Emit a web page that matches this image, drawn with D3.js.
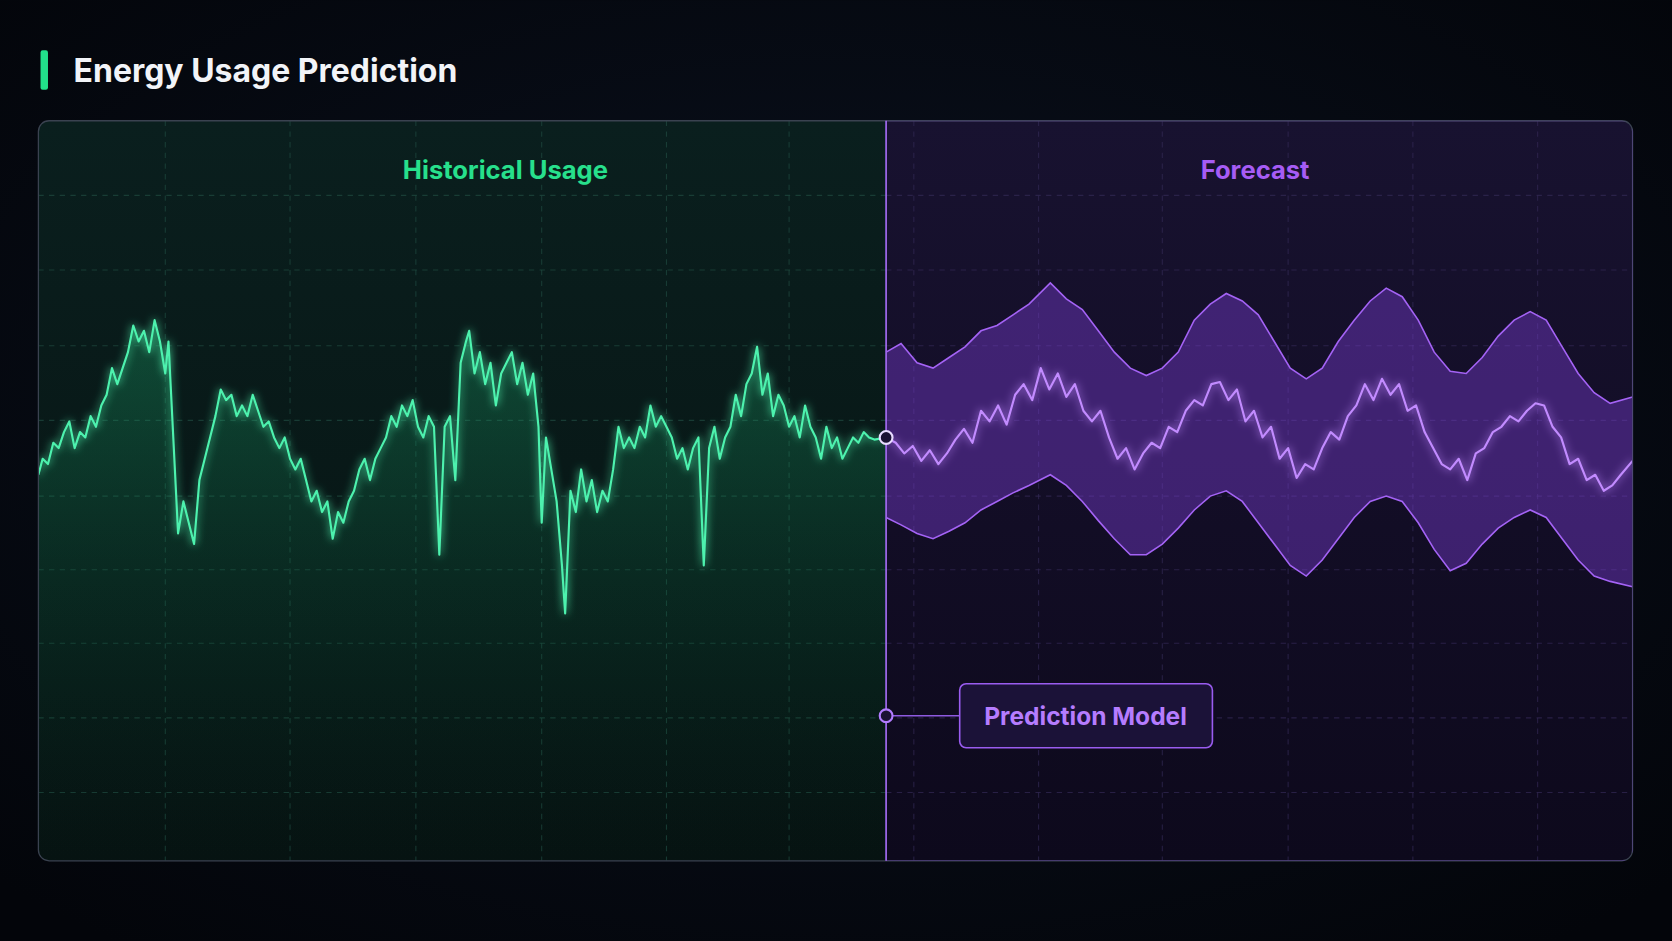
<!DOCTYPE html>
<html><head><meta charset="utf-8">
<script src="https://cdn.jsdelivr.net/npm/d3@7"></script>
<style>
html,body{margin:0;padding:0;background:#04070d;overflow:hidden}
svg{display:block}
</style></head>
<body>
<svg id="chart"></svg>
<script>
// hours since start, usage (kW)
const histT = [0,4,9,14,19,24,29,34,39,44,49,54,59,64,69,74,79,84,89,94,99,104,109,114,119,122,126,131,136,141,146,151,156,161,166,171,176,181,186,191,196,201,206,211,216,221,226,231,236,241,246,251,256,261,266,271,276,281,286,291,296,301,306,311,316,321,326,331,336,341,346,351,356,361,366,371,376,381,386,391,396,401,404,409,414,419,424,429,434,439,444,449,454,459,464,469,472,476,481,486,491,494,499,504,509,514,519,524,529,534,539,544,549,554,559,564,569,574,579,584,589,594,599,604,609,614,619,624,629,634,639,644,649,654,659,664,669,674,679,684,689,694,699,704,709,714,719,724,729,734,739,744,749,754,759,764,769,774,779,784,795];
const histV = [455,470,465,485,480,495,505,480,495,490,510,500,520,530,555,540,555,570,595,580,590,570,600,580,550,580,500,400,430,410,390,450,470,490,510,535,525,530,510,520,510,530,515,500,505,490,480,490,470,460,470,450,430,440,420,430,395,420,410,430,440,460,470,450,470,480,490,510,500,520,510,525,500,490,510,500,380,500,510,450,560,580,590,550,570,540,560,520,550,560,570,540,560,530,550,500,410,490,460,430,370,325,440,420,460,430,450,420,440,430,460,500,480,490,480,500,490,520,500,510,500,490,470,480,460,480,490,370,480,500,470,490,500,530,510,540,550,575,530,550,510,530,520,500,510,490,520,500,490,470,500,480,490,470,480,490,485,495,490,488,490];

const foreT = [795,804,812,820,828,836,844,852,860,868,876,884,892,900,908,916,924,932,940,948,956,964,972,980,988,996,1004,1012,1020,1028,1036,1044,1052,1060,1068,1076,1084,1092,1100,1108,1116,1124,1132,1140,1148,1156,1164,1172,1180,1188,1196,1204,1212,1220,1228,1236,1244,1252,1260,1268,1276,1284,1292,1300,1308,1316,1324,1332,1340,1348,1356,1364,1372,1380,1388,1396,1404,1412,1420,1428,1436,1444,1452,1460,1468,1476,1484,1495];
const foreV = [490,485,475,482,468,478,465,475,488,498,485,515,505,520,502,530,540,525,555,535,550,528,540,515,505,515,490,470,480,460,475,485,480,500,495,515,525,520,540,542,525,535,505,515,490,500,470,480,452,465,460,480,495,488,510,520,540,525,545,530,540,515,520,495,480,465,460,470,450,475,480,495,500,510,505,515,522,520,500,490,465,470,450,455,440,445,455,468];

const bandT = [795,809,824,839,854,869,884,899,914,929,949,964,979,994,1009,1024,1039,1054,1069,1084,1099,1114,1129,1144,1159,1174,1189,1204,1219,1234,1249,1264,1279,1294,1309,1324,1339,1354,1369,1384,1399,1414,1429,1444,1459,1474,1495];
const bandHi = [570,578,560,555,565,575,590,595,605,615,635,620,610,590,570,555,548,555,570,600,615,625,618,605,580,555,545,555,580,600,618,630,622,600,570,552,550,565,585,600,608,600,575,550,532,522,528];
const bandLo = [415,408,400,395,402,410,422,430,438,445,455,445,430,412,395,380,380,390,405,422,435,440,430,410,390,370,360,375,395,415,430,435,430,410,385,365,372,390,405,415,422,415,395,375,360,355,350];

const gridT = [119,236,354,472,589,704,821,938,1054,1172,1289,1406];
const gridV = [157,227,297,366,435,506,576,647,717];

const W = 1568, H = 882;
const P = {x0:36, x1:1531, y0:113, y1:807};
const svg = d3.select("#chart").attr("width",1672).attr("height",941).attr("viewBox",`0 0 ${W} ${H}`);
const x = d3.scaleLinear().domain([0,1495]).range([P.x0,P.x1]);
const y = d3.scaleLinear().domain([93,787]).range([P.y1,P.y0]);
const splitX = x(795);

const defs = svg.append("defs");
const bg = defs.append("radialGradient").attr("id","bg").attr("cx","50%").attr("cy","45%").attr("r","70%");
bg.append("stop").attr("offset","0%").attr("stop-color","#0b1220");
bg.append("stop").attr("offset","100%").attr("stop-color","#03050a");
const lg = defs.append("linearGradient").attr("id","leftBg").attr("x1",0).attr("y1",0).attr("x2",0).attr("y2",1);
lg.append("stop").attr("offset","0%").attr("stop-color","#0a1f1e");
lg.append("stop").attr("offset","100%").attr("stop-color","#061211");
const rg = defs.append("linearGradient").attr("id","rightBg").attr("x1",0).attr("y1",0).attr("x2",0).attr("y2",1);
rg.append("stop").attr("offset","0%").attr("stop-color","#181230");
rg.append("stop").attr("offset","100%").attr("stop-color","#0d091c");
const ga = defs.append("linearGradient").attr("id","greenArea").attr("x1",0).attr("y1",0).attr("x2",0).attr("y2",1);
ga.append("stop").attr("offset","0%").attr("stop-color","#1fbf7a").attr("stop-opacity",0.3);
ga.append("stop").attr("offset","55%").attr("stop-color","#0f6a48").attr("stop-opacity",0.18);
ga.append("stop").attr("offset","100%").attr("stop-color","#0a3a2c").attr("stop-opacity",0.02);
const glow = defs.append("filter").attr("id","glow").attr("x","-10%").attr("y","-10%").attr("width","120%").attr("height","120%");
glow.append("feGaussianBlur").attr("stdDeviation",4).attr("result","b");
const m = glow.append("feMerge"); m.append("feMergeNode").attr("in","b"); m.append("feMergeNode").attr("in","SourceGraphic");
defs.append("clipPath").attr("id","panelClip").append("rect")
  .attr("x",P.x0).attr("y",P.y0).attr("width",P.x1-P.x0).attr("height",P.y1-P.y0).attr("rx",10);

svg.append("rect").attr("width",W).attr("height",H).attr("fill","url(#bg)");

// title
svg.append("rect").attr("x",38).attr("y",47).attr("width",7).attr("height",37).attr("rx",2).attr("fill","#22e08a");
svg.append("text").attr("x",69).attr("y",77).attr("fill","#f2f4f8")
  .attr("font-family","Inter, 'Open Sans', sans-serif").attr("font-weight",700).attr("font-size",30)
  .text("Energy Usage Prediction");

const g = svg.append("g").attr("clip-path","url(#panelClip)");
g.append("rect").attr("x",P.x0).attr("y",P.y0).attr("width",splitX-P.x0).attr("height",P.y1-P.y0).attr("fill","url(#leftBg)");
g.append("rect").attr("x",splitX).attr("y",P.y0).attr("width",P.x1-splitX).attr("height",P.y1-P.y0).attr("fill","url(#rightBg)");

// grid
g.selectAll(".gx").data(gridT).join("line")
  .attr("x1",d=>x(d)).attr("x2",d=>x(d)).attr("y1",P.y0).attr("y2",P.y1)
  .attr("stroke",d=>x(d)<splitX?"#1f4a40":"#332a55").attr("stroke-opacity",0.7).attr("stroke-dasharray","5,5");
gridV.forEach(v=>{
  g.append("line").attr("x1",P.x0).attr("x2",splitX).attr("y1",y(v)).attr("y2",y(v))
    .attr("stroke","#1f4a40").attr("stroke-opacity",0.7).attr("stroke-dasharray","5,5");
  g.append("line").attr("x1",splitX).attr("x2",P.x1).attr("y1",y(v)).attr("y2",y(v))
    .attr("stroke","#332a55").attr("stroke-opacity",0.7).attr("stroke-dasharray","5,5");
});

// historical
const hist = histT.map((t,i)=>({t,v:histV[i]}));
g.append("path").datum(hist).attr("fill","url(#greenArea)")
  .attr("d",d3.area().x(d=>x(d.t)).y0(y(93)).y1(d=>y(d.v)));
g.append("path").datum(hist).attr("fill","none").attr("stroke","#4df2ae").attr("stroke-width",2)
  .attr("stroke-linejoin","round").attr("filter","url(#glow)")
  .attr("d",d3.line().x(d=>x(d.t)).y(d=>y(d.v)));

// forecast band
const band = bandT.map((t,i)=>({t,hi:bandHi[i],lo:bandLo[i]}));
g.append("path").datum(band).attr("fill","#7b3fd6").attr("fill-opacity",0.42)
  .attr("d",d3.area().x(d=>x(d.t)).y0(d=>y(d.lo)).y1(d=>y(d.hi)));
["hi","lo"].forEach(k=>{
  g.append("path").datum(band).attr("fill","none").attr("stroke","#a463f5").attr("stroke-width",1.5)
    .attr("d",d3.line().x(d=>x(d.t)).y(d=>y(d[k])));
});
const fore = foreT.map((t,i)=>({t,v:foreV[i]}));
g.append("path").datum(fore).attr("fill","none").attr("stroke","#c28bff").attr("stroke-width",2)
  .attr("stroke-linejoin","round").attr("filter","url(#glow)")
  .attr("d",d3.line().x(d=>x(d.t)).y(d=>y(d.v)));

// panel border + divider
svg.append("rect").attr("x",P.x0).attr("y",P.y0).attr("width",P.x1-P.x0).attr("height",P.y1-P.y0).attr("rx",10)
  .attr("fill","none").attr("stroke","#3a4250").attr("stroke-width",1.2);
svg.append("rect").attr("x",splitX).attr("y",P.y0).attr("width",P.x1-splitX).attr("height",P.y1-P.y0)
  .attr("fill","none").attr("stroke","#7a4fc8").attr("stroke-opacity",0.6).attr("clip-path","url(#panelClip)");
svg.append("line").attr("x1",splitX).attr("x2",splitX).attr("y1",P.y0).attr("y2",P.y1)
  .attr("stroke","#a26bf0").attr("stroke-width",1.5);
svg.append("circle").attr("cx",splitX).attr("cy",y(490)).attr("r",6)
  .attr("fill","#1a1233").attr("stroke","#e8dcff").attr("stroke-width",2);

// section titles
svg.append("text").attr("x",474).attr("y",168).attr("text-anchor","middle").attr("fill","#27e08c")
  .attr("font-family","Inter, sans-serif").attr("font-weight",700).attr("font-size",24).text("Historical Usage");
svg.append("text").attr("x",1177).attr("y",168).attr("text-anchor","middle").attr("fill","#a65cf5")
  .attr("font-family","Inter, sans-serif").attr("font-weight",700).attr("font-size",24).text("Forecast");

// prediction model callout
svg.append("line").attr("x1",splitX).attr("x2",900).attr("y1",671).attr("y2",671).attr("stroke","#8e5ae0").attr("stroke-width",1.5);
svg.append("circle").attr("cx",splitX).attr("cy",671).attr("r",6).attr("fill","#1a1233").attr("stroke","#b27cff").attr("stroke-width",2);
svg.append("rect").attr("x",900).attr("y",641).attr("width",237).attr("height",60).attr("rx",6)
  .attr("fill","#1b1238").attr("stroke","#9a5cf0").attr("stroke-width",1.5);
svg.append("text").attr("x",1018).attr("y",680).attr("text-anchor","middle").attr("fill","#b57cff")
  .attr("font-family","Inter, sans-serif").attr("font-weight",700).attr("font-size",23).text("Prediction Model");
</script>
</body></html>
